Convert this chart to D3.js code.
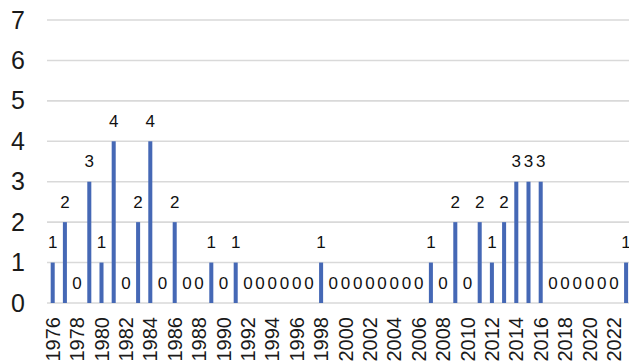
<!DOCTYPE html>
<html><head><meta charset="utf-8">
<script src="https://cdn.jsdelivr.net/npm/d3@7"></script>
<style>html,body{margin:0;padding:0;background:#fff;overflow:hidden}</style>
</head><body>
<script>
const years = d3.range(1976, 2024);
const values = [1,2,0,3,1,4,0,2,4,0,2,0,0,1,0,1,
  0,0,0,0,0,0,
  1,
  0,0,0,0,0,0,0,0,
  1,0,2,0,2,1,2,3,3,3,
  0,0,0,0,0,0,
  1];
const yTicks = [0,1,2,3,4,5,6,7];
const xTickLabels = years.filter(y => (y - 1976) % 2 === 0);

const W = 629, H = 361;
const svg = d3.select("body").append("svg").attr("width", W).attr("height", H)
  .style("font-family", "'Liberation Sans', Arial, sans-serif");

const x = d3.scaleBand().domain(years).range([46.6, 46.6 + 48 * 12.2]).paddingInner(0.67).paddingOuter(0.335);
const y = d3.scaleLinear().domain([0, 7]).range([303, 20]);

// gridlines
svg.append("g").selectAll("line").data(yTicks).join("line")
  .attr("x1", 47).attr("x2", W)
  .attr("y1", d => y(d)).attr("y2", d => y(d))
  .attr("stroke", "#d9d9d9").attr("stroke-width", 1.6);

// y axis labels
const yAxis = d3.axisLeft(y).tickValues(yTicks).tickFormat(d3.format("d")).tickSize(0).tickPadding(0);
const yg = svg.append("g").attr("transform", "translate(25,0)").call(yAxis);
yg.select(".domain").remove();
yg.selectAll("text").attr("font-size", 25).attr("fill", "#1a1a1a").attr("font-family", "'Liberation Sans', Arial, sans-serif");

// x axis labels
const xAxis = d3.axisBottom(x).tickValues(xTickLabels).tickSize(0).tickPadding(0);
const xg = svg.append("g").attr("transform", "translate(0,317)").call(xAxis);
xg.select(".domain").remove();
xg.selectAll("text")
  .attr("font-size", 20).attr("fill", "#1a1a1a").attr("font-family", "'Liberation Sans', Arial, sans-serif")
  .attr("text-anchor", "end").attr("transform", "rotate(-90)")
  .attr("x", 0).attr("y", 0).attr("dy", "0.35em");

// bars
const data = years.map((yr, i) => ({year: yr, value: values[i]}));
svg.append("g").selectAll("rect").data(data).join("rect")
  .attr("x", d => x(d.year)).attr("width", x.bandwidth())
  .attr("y", d => y(d.value)).attr("height", d => y(0) - y(d.value))
  .attr("fill", "#4568B5");

// data labels
svg.append("g").selectAll("text").data(data).join("text")
  .attr("x", d => x(d.year) + x.bandwidth() / 2)
  .attr("y", d => y(d.value) - 14.5)
  .attr("text-anchor", "middle").attr("font-size", 17).attr("fill", "#111")
  .text(d => d.value);
</script>
</body></html>
